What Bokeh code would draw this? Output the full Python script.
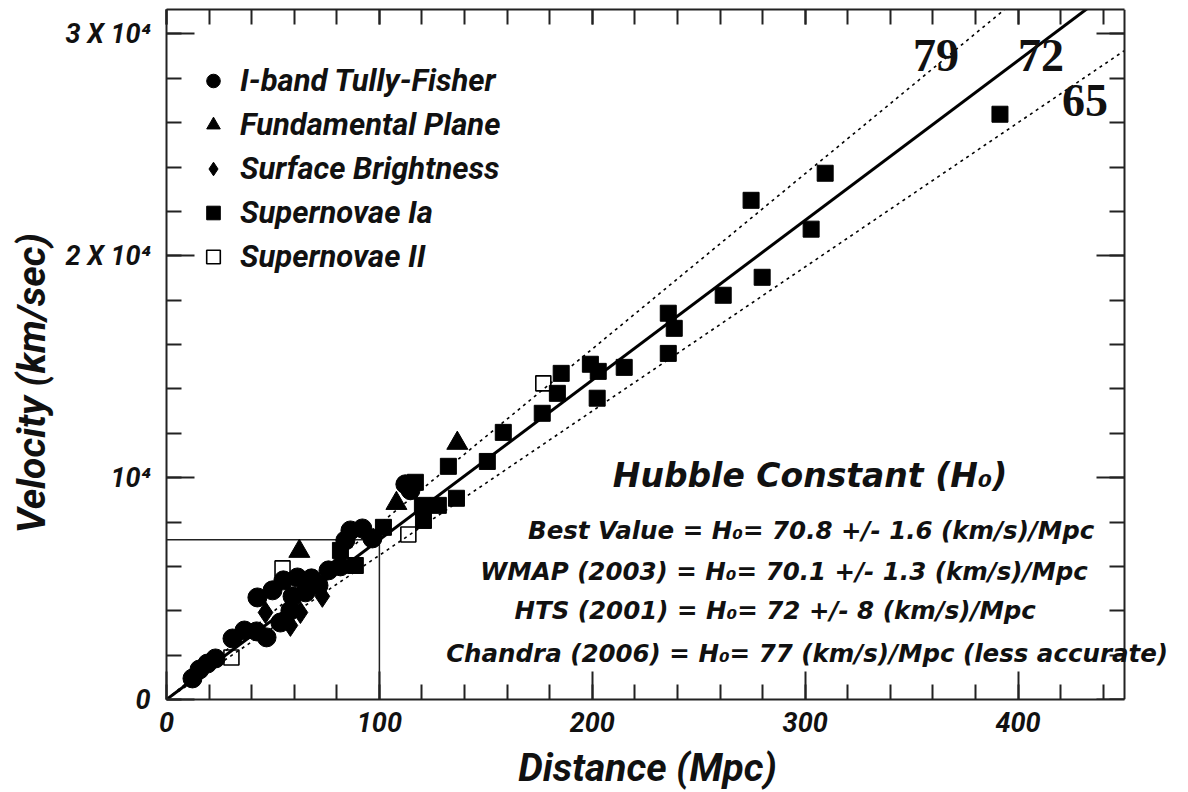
from bokeh.plotting import figure
from bokeh.models import LinearAxis, FixedTicker, Label, Legend, LegendItem, Range1d
from bokeh.embed import file_html
from bokeh.resources import INLINE

# ---------------- data ----------------
# I-band Tully-Fisher (filled circles)
tf_dist = [12.2, 15.5, 19.2, 23.0, 31.0, 36.6, 42.3, 47.0, 53.5, 58.2, 42.7, 49.8, 54.9,
           61.5, 68.1, 59.2, 65.3, 71.4, 76.1, 81.7, 86.4, 92.0, 96.7, 84.0, 114.6, 112.2]
tf_vel = [950, 1350, 1620, 1850, 2750, 3110, 3070, 2800, 3470, 4010, 4600, 4920, 5370,
          5500, 5460, 4650, 4830, 5140, 5820, 6000, 7620, 7710, 7260, 7170, 9430, 9700]
# Fundamental Plane (filled triangles)
fp_dist = [136.6, 108.0, 62.4]
fp_vel = [11550, 8840, 6680]
# Surface Brightness (filled diamonds)
sb_dist = [58.2, 62.9, 46.5, 73.2]
sb_vel = [3340, 3920, 3920, 4650]
# Supernovae Ia (filled squares)
sn1_dist = [391.5, 309.4, 274.6, 302.8, 279.8, 261.5, 235.7, 238.5, 235.7, 215.0, 199.1,
            202.8, 185.4, 183.6, 176.5, 202.3, 158.2, 150.7, 132.4, 136.2, 127.7, 120.7,
            116.9, 120.2, 101.9, 81.7, 88.7]
sn1_vel = [26380, 23720, 22500, 21200, 19030, 18220, 17410, 16730, 15600, 14970, 15110,
           14790, 14700, 13800, 12900, 13580, 12040, 10730, 10510, 9070, 8750, 8070,
           9790, 8750, 7760, 6720, 6040]
# Supernovae II (open squares)
sn2_dist = [177.0, 113.6, 54.5, 30.5]
sn2_vel = [14250, 7440, 5910, 1890]

# Hubble-law lines (km/s/Mpc) and their labels
h_values = [79, 72, 65]
h_labels = ["79", "72", "65"]
line_dist = [0, 450]

# reference marker: 100 Mpc -> 7200 km/s
ref_dist = 100
ref_vel = 7200

x_max = 450
y_max = 31100
x_major = [0, 100, 200, 300, 400]
x_minor = list(range(0, 451, 20))
y_major = [0, 10000, 20000, 30000]
y_minor = list(range(0, 31001, 2000))
y_tick_text = {0: "0", 10000: "10\u2074", 20000: "2 X 10\u2074", 30000: "3 X 10\u2074"}

x_title = "Distance (Mpc)"
y_title = "Velocity (km/sec)"

legend_names = ["I-band Tully-Fisher", "Fundamental Plane", "Surface Brightness",
                "Supernovae Ia", "Supernovae II"]

title_text = "Hubble Constant (H\u2080)"
result_lines = [
    "Best Value = H\u2080= 70.8 +/- 1.6 (km/s)/Mpc",
    "WMAP (2003) = H\u2080= 70.1 +/- 1.3 (km/s)/Mpc",
    "HTS (2001) = H\u2080= 72 +/- 8 (km/s)/Mpc",
    "Chandra (2006) = H\u2080= 77 (km/s)/Mpc (less accurate)",
]

FONT = "Roboto"
FONT2 = "DejaVu Sans"
NBSP = "\u00a0"

# the plotting frame is widened past x=450 so that the long text line can
# run over the right axis (which is drawn at x = 450), as in the original
FRAME_W = 1010
AXIS_W = 958
p = figure(frame_width=FRAME_W, frame_height=690,
           x_range=Range1d(0, x_max * FRAME_W / AXIS_W), y_range=Range1d(0, y_max),
           output_backend="svg", toolbar_location=None,
           min_border_left=166, min_border_right=2,
           min_border_top=9, min_border_bottom=85)
p.xgrid.visible = False
p.ygrid.visible = False
p.outline_line_color = None
p.background_fill_color = "white"
p.border_fill_color = "white"


def style_axis(ax, ticker, major_in, minor_in, show_labels):
    ax.ticker = ticker
    ax.axis_line_width = 2
    ax.axis_line_color = "#222222"
    ax.major_tick_in = major_in
    ax.major_tick_out = 0
    ax.minor_tick_in = minor_in
    ax.minor_tick_out = 0
    ax.major_tick_line_width = 2
    ax.minor_tick_line_width = 2
    ax.major_tick_line_color = "#222222"
    ax.minor_tick_line_color = "#222222"
    if show_labels:
        ax.major_label_text_font = FONT
        ax.major_label_text_font_size = "27px"
        ax.major_label_text_font_style = "bold italic"
        ax.major_label_text_color = "#111111"
    else:
        ax.major_label_overrides = {t: "" for t in ticker.ticks}
        ax.major_label_text_font_size = "1px"
        ax.major_label_standoff = 0


xt = FixedTicker(ticks=x_major, minor_ticks=x_minor)
yt = FixedTicker(ticks=y_major, minor_ticks=y_minor)

style_axis(p.xaxis[0], xt, 28, 15, True)
style_axis(p.yaxis[0], yt, 28, 15, True)
p.xaxis[0].bounds = (0, x_max)
p.xaxis[0].major_label_standoff = 12
p.yaxis[0].major_label_standoff = 16
p.yaxis[0].major_label_overrides = y_tick_text

# trailing no-break spaces keep the titles centred on the drawn axes
p.xaxis[0].axis_label = x_title + NBSP * 5
p.yaxis[0].axis_label = y_title + NBSP * 6
for ax in (p.xaxis[0], p.yaxis[0]):
    ax.axis_label_text_font = FONT
    ax.axis_label_text_font_size = "39px"
    ax.axis_label_text_font_style = "bold italic"
    ax.axis_label_text_color = "#111111"
p.xaxis[0].axis_label_standoff = 10
p.yaxis[0].axis_label_standoff = 8

top_ax = LinearAxis(bounds=(0, x_max))
style_axis(top_ax, FixedTicker(ticks=x_major, minor_ticks=x_minor), 15, 15, False)
p.add_layout(top_ax, "above")
right_ax = LinearAxis(fixed_location=x_max)
style_axis(right_ax, FixedTicker(ticks=y_major, minor_ticks=y_minor), 28, 15, False)
p.add_layout(right_ax, "right")

# Hubble-law lines
for h in h_values:
    vv = [h * d for d in line_dist]
    if h == 72:
        p.line(line_dist, vv, line_color="black", line_width=3)
    else:
        p.line(line_dist, vv, line_color="black", line_width=1.6, line_dash="3 4")

# 100 Mpc reference lines
p.line([0, ref_dist], [ref_vel, ref_vel], line_color="#222222", line_width=1.5)
p.line([ref_dist, ref_dist], [0, ref_vel], line_color="#222222", line_width=1.5)

r_tf = p.scatter(tf_dist, tf_vel, marker="circle", size=19, fill_color="black", line_color="black")
r_sb = p.scatter(sb_dist, sb_vel, marker="diamond", size=22, fill_color="black", line_color="black")
r_fp = p.scatter(fp_dist, fp_vel, marker="triangle", size=21, fill_color="black", line_color="black")
r_s1 = p.scatter(sn1_dist, sn1_vel, marker="square", size=16, fill_color="black", line_color="black")
r_s2 = p.scatter(sn2_dist, sn2_vel, marker="square", size=15, fill_alpha=0,
                 line_color="black", line_width=1.6)

legend = Legend(items=[LegendItem(label=n, renderers=[r])
                       for n, r in zip(legend_names, [r_tf, r_fp, r_sb, r_s1, r_s2])],
                location=(30, 424), glyph_width=34, glyph_height=37, label_height=37,
                spacing=7, padding=0, margin=0, label_standoff=10,
                label_text_font=FONT, label_text_font_size="31px",
                label_text_font_style="bold italic", label_text_color="#111111",
                border_line_alpha=0, background_fill_alpha=0)
p.add_layout(legend)

# H labels near the lines
h_label_pos = [(350.7, 29040), (400.0, 29040), (420.7, 27010)]
for txt, (lx, ly) in zip(h_labels, h_label_pos):
    p.add_layout(Label(x=lx, y=ly, text=txt, text_font="Liberation Serif",
                       text_font_size="46px", text_font_style="bold",
                       text_align="left", text_baseline="middle", text_color="#111111"))

# Hubble constant text block
p.add_layout(Label(x=302.3, y=10100, text=title_text, text_font=FONT2,
                   text_font_size="33px", text_font_style="bold italic",
                   text_align="center", text_baseline="middle", text_color="#111111"))
line_pos = [(302.8, 7620), (290.1, 5780), (285.9, 4020), (300.9, 2080)]
for txt, (lx, ly) in zip(result_lines, line_pos):
    p.add_layout(Label(x=lx, y=ly, text=txt, text_font=FONT2,
                       text_font_size="24.5px", text_font_style="bold italic",
                       text_align="center", text_baseline="middle", text_color="#111111"))

open("out.html", "w").write(file_html(p, INLINE))
